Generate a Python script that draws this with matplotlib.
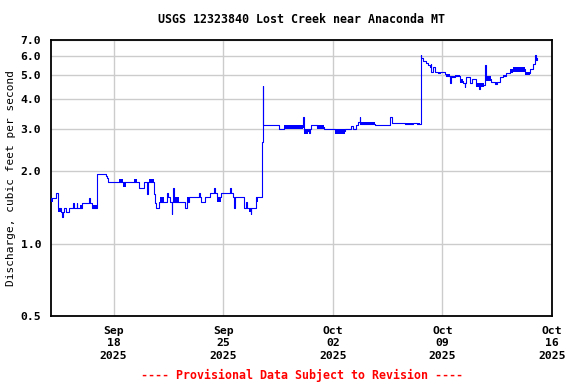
import matplotlib
matplotlib.use('Agg')
import matplotlib.pyplot as plt
import matplotlib.dates as mdates
from matplotlib.ticker import FixedLocator, FormatStrFormatter
from datetime import datetime, timedelta

plt.rcParams['font.family'] = 'DejaVu Sans Mono'
plt.rcParams['font.weight'] = 'bold'

start = datetime(2025, 9, 14)

readings = [
    (0.00, 1.55), (0.31, 1.62), (0.45, 1.41), (0.61, 1.35), (0.73, 1.29),
    (0.76, 1.35), (0.82, 1.41), (0.99, 1.35), (1.16, 1.41), (1.41, 1.48),
    (1.48, 1.41), (1.63, 1.48), (1.69, 1.41), (2.01, 1.48), (2.43, 1.55),
    (2.48, 1.48), (2.65, 1.41), (2.91, 1.72), (2.94, 1.87), (2.97, 1.94),
    (3.50, 1.90), (3.55, 1.87), (3.62, 1.80), (5.63, 1.70), (5.93, 1.80),
    (6.14, 1.60), (6.18, 1.80), (6.58, 1.60), (6.62, 1.55), (6.66, 1.48),
    (6.70, 1.41), (6.88, 1.49), (7.38, 1.62), (7.48, 1.56), (7.59, 1.49),
    (7.73, 1.33), (7.76, 1.49), (7.80, 1.70), (7.83, 1.49), (8.59, 1.41),
    (8.69, 1.49), (8.81, 1.56), (9.46, 1.62), (9.50, 1.56), (9.57, 1.49),
    (9.82, 1.56), (10.14, 1.62), (10.42, 1.70), (10.46, 1.62), (10.63, 1.56),
    (10.89, 1.62), (11.44, 1.70), (11.48, 1.62), (11.60, 1.56), (11.67, 1.45),
    (11.72, 1.41), (11.76, 1.56), (12.31, 1.41), (12.45, 1.49), (12.50, 1.41),
    (12.76, 1.33), (12.80, 1.41), (13.08, 1.56), (13.49, 2.65), (13.53, 4.52),
    (13.57, 3.10), (14.57, 2.98), (14.88, 3.04), (16.10, 3.34), (16.14, 2.98),
    (16.18, 2.92), (16.40, 2.98), (16.50, 2.88), (16.55, 2.98), (16.62, 3.10),
    (17.00, 3.04), (17.42, 2.98), (18.12, 2.92), (18.80, 2.98), (19.14, 3.08),
    (19.27, 2.98), (19.45, 3.10), (19.59, 3.21), (19.72, 3.34), (19.76, 3.15),
    (20.70, 3.12), (21.64, 3.34), (21.80, 3.18), (22.59, 3.15), (23.12, 3.18),
    (23.35, 3.15), (23.61, 6.05), (23.66, 5.92), (23.77, 5.75), (23.98, 5.63),
    (24.08, 5.51), (24.19, 5.39), (24.25, 5.56), (24.30, 5.17), (24.40, 5.39),
    (24.51, 5.17), (24.72, 5.10), (24.83, 5.17), (25.15, 5.04), (25.21, 4.97),
    (25.47, 4.65), (25.57, 4.90), (25.79, 4.95), (26.10, 4.72), (26.32, 4.65),
    (26.42, 4.48), (26.46, 4.65), (26.53, 4.90), (26.74, 4.65), (26.91, 4.81),
    (27.17, 4.56), (27.34, 4.37), (27.43, 4.56), (27.70, 5.51), (27.76, 4.82),
    (28.13, 4.70), (28.34, 4.59), (28.49, 4.70), (28.66, 4.90), (28.87, 4.97),
    (29.09, 5.10), (29.30, 5.20), (29.51, 5.30), (30.26, 5.10), (30.62, 5.29),
    (30.79, 5.59), (30.90, 5.90), (30.94, 6.05), (30.97, 5.80), (31.03, 5.90),
    (31.06, 5.90),
]

# periods where the 15-min values flicker between two levels (start, end, low, high)
bands = [
    (0.00, 0.13, 1.49, 1.55), (0.45, 0.61, 1.35, 1.41), (1.84, 2.01, 1.41, 1.45),
    (2.65, 2.91, 1.41, 1.45), (4.33, 4.57, 1.80, 1.85), (4.57, 4.82, 1.72, 1.80),
    (5.31, 5.52, 1.80, 1.85), (6.26, 6.58, 1.80, 1.85), (6.95, 7.20, 1.49, 1.56),
    (7.86, 8.16, 1.49, 1.56), (8.69, 8.81, 1.49, 1.56), (10.63, 10.89, 1.49, 1.56),
    (12.65, 12.84, 1.35, 1.41), (13.08, 13.25, 1.49, 1.56),
    (14.88, 16.10, 2.98, 3.10), (16.18, 16.40, 2.85, 2.98), (17.00, 17.42, 2.98, 3.10),
    (18.12, 18.80, 2.85, 2.98), (19.76, 20.70, 3.10, 3.21), (22.59, 23.12, 3.10, 3.18),
    (23.35, 23.58, 3.10, 3.18),
    (24.72, 24.83, 5.04, 5.17), (25.21, 25.47, 4.90, 5.04), (25.57, 25.79, 4.85, 4.95),
    (25.79, 26.10, 4.90, 5.01), (26.10, 26.32, 4.65, 4.81), (27.17, 27.38, 4.48, 4.65),
    (27.43, 27.64, 4.48, 4.65), (27.81, 28.13, 4.75, 4.95), (28.34, 28.49, 4.59, 4.70),
    (28.87, 29.09, 4.90, 5.01), (29.30, 29.51, 5.12, 5.29), (29.51, 30.26, 5.17, 5.41),
    (30.26, 30.62, 5.01, 5.17),
]

yticks = [0.5, 1.0, 2.0, 3.0, 4.0, 5.0, 6.0, 7.0]
xticks = [datetime(2025, 9, 18), datetime(2025, 9, 25), datetime(2025, 10, 2),
          datetime(2025, 10, 9), datetime(2025, 10, 16)]

fig = plt.figure(figsize=(5.76, 3.84), dpi=100)
ax = fig.add_axes([51 / 576, 1 - 316 / 384, 501 / 576, 276 / 384])

t = [start + timedelta(days=d) for d, _ in readings]
q = [v for _, v in readings]
ax.step(t, q, where='post', color='#0000ff', lw=0.8, zorder=3)
for s, e, lo, hi in bands:
    ax.fill_between([start + timedelta(days=s), start + timedelta(days=e)],
                    [lo, lo], [hi, hi], color='#0000ff', lw=0, zorder=3)

ax.set_yscale('log')
ax.set_ylim(0.5, 7.0)
ax.yaxis.set_major_locator(FixedLocator(yticks))
ax.yaxis.set_major_formatter(FormatStrFormatter('%.1f'))
ax.yaxis.set_minor_locator(FixedLocator([]))
ax.set_xlim(start, datetime(2025, 10, 16))
ax.set_xticks(xticks)
ax.xaxis.set_major_formatter(mdates.DateFormatter('%b\n%d\n%Y'))

ax.grid(True, color='#cccccc', lw=1)
ax.set_axisbelow(True)
ax.tick_params(length=0, labelsize=8.2, pad=7)
for lab in ax.get_xticklabels():
    lab.set_linespacing(1.3)
for sp in ax.spines.values():
    sp.set_linewidth(1.3)

ax.set_ylabel('Discharge, cubic feet per second', fontsize=8, labelpad=3)
fig.text(0.524, 0.948, 'USGS 12323840 Lost Creek near Anaconda MT',
         ha='center', va='center', fontsize=8.4)
fig.text(0.524, 0.023, '---- Provisional Data Subject to Revision ----',
         ha='center', va='center', fontsize=8.4, color='red')

fig.savefig('out.png', dpi=100)
